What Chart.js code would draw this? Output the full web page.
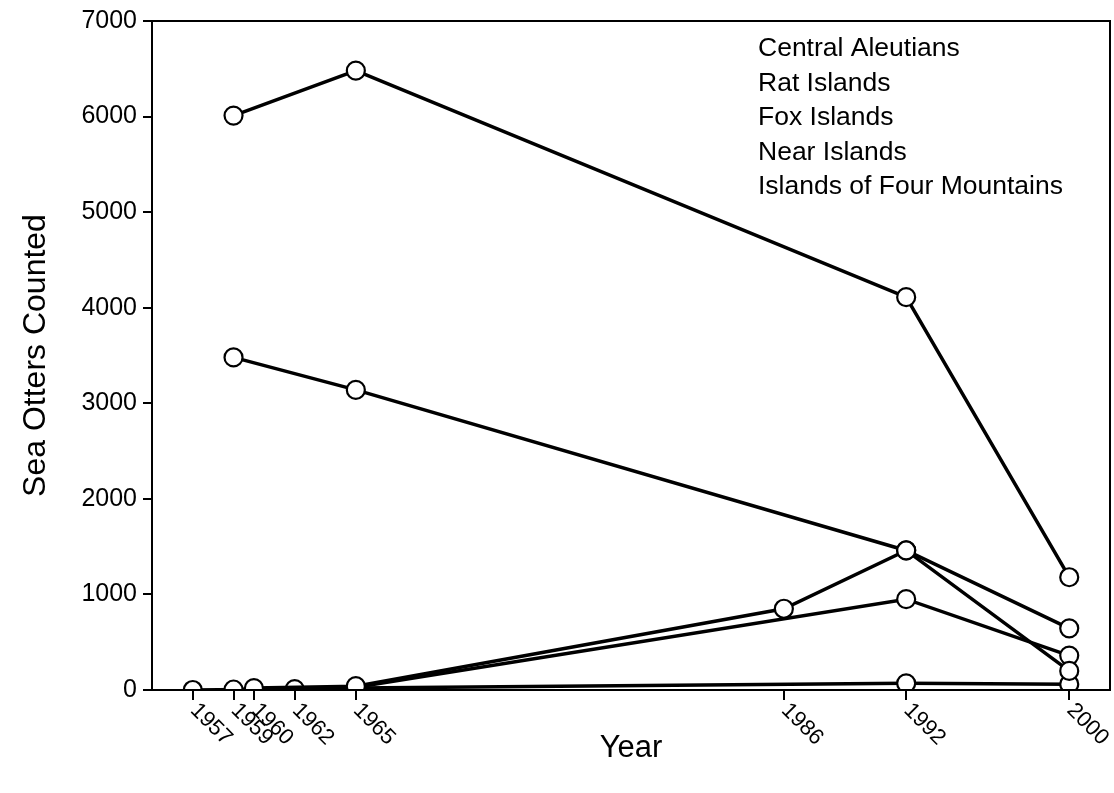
<!DOCTYPE html>
<html>
<head>
<meta charset="utf-8">
<script src="https://cdn.jsdelivr.net/npm/chart.js@4"></script>
<style>
  html, body { margin: 0; padding: 0; background: #fff; }
  #wrap { width: 1114px; height: 793px; position: relative; }
</style>
</head>
<body>
<div id="wrap"><canvas id="otters"></canvas></div>
<script>
// survey years (x ticks) and counts per island group, null = not surveyed
const years = [1957, 1959, 1960, 1962, 1965, 1986, 1992, 2000];
const seriesNames = ['Central Aleutians', 'Rat Islands', 'Fox Islands', 'Near Islands', 'Islands of Four Mountains'];
const centralAleutians = [null, 6010, null, null, 6480, null, 4110, 1180];
const ratIslands       = [null, 3480, null, null, 3140, null, 1460, 645];
const foxIslands       = [null, null, 20, null, 40, 850, 1460, 200];
const nearIslands      = [null, 5, null, null, 30, null, 950, 360];
const fourMountains    = [0, null, null, 10, 20, null, 70, 60];
const yTicks = [0, 1000, 2000, 3000, 4000, 5000, 6000, 7000];

const FONT = '"Liberation Sans", Arial, sans-serif';

function toPoints(vals) {
  return years.map((yr, i) => ({ x: yr, y: vals[i] })).filter(p => p.y !== null);
}

const allSeries = [centralAleutians, ratIslands, foxIslands, nearIslands, fourMountains];

const datasets = allSeries.map((vals, i) => ({
  label: seriesNames[i],
  data: toPoints(vals),
  borderColor: '#000',
  borderWidth: 3.5,
  pointRadius: 9,
  pointBorderWidth: 2.2,
  pointBackgroundColor: '#fff',
  pointBorderColor: '#000',
  tension: 0,
  fill: false
}));

// box round the plot, rotated year labels and the text-only legend
const extras = {
  id: 'extras',
  afterDraw(chart) {
    const { ctx, chartArea } = chart;
    const xs = chart.scales.x;
    ctx.save();
    ctx.strokeStyle = '#000';
    ctx.lineWidth = 2;
    ctx.strokeRect(chartArea.left, chartArea.top, chartArea.right - chartArea.left, chartArea.bottom - chartArea.top);

    ctx.fillStyle = '#000';
    ctx.font = '22px ' + FONT;
    ctx.textAlign = 'left';
    ctx.textBaseline = 'middle';
    years.forEach(yr => {
      const px = xs.getPixelForValue(yr);
      ctx.save();
      ctx.translate(px + 1, chartArea.bottom + 17);
      ctx.rotate(45 * Math.PI / 180);
      ctx.fillText(String(yr), 0, 0);
      ctx.restore();
    });

    ctx.font = '26.5px ' + FONT;
    seriesNames.forEach((name, i) => {
      ctx.fillText(name, chartArea.right - 352, chartArea.top + 28 + i * 34.5);
    });
    ctx.restore();
  }
};

new Chart(document.getElementById('otters'), {
  type: 'line',
  data: { datasets },
  options: {
    responsive: true,
    maintainAspectRatio: false,
    animation: false,
    layout: { autoPadding: false, padding: { top: 18, right: 4, left: 0, bottom: 0 } },
    plugins: {
      legend: { display: false },
      tooltip: { enabled: false }
    },
    scales: {
      x: {
        type: 'linear',
        min: 1955,
        max: 2002,
        afterBuildTicks: scale => { scale.ticks = years.map(v => ({ value: v })); },
        afterFit: scale => { scale.height = 103; },
        ticks: { display: false },
        grid: { drawOnChartArea: false, drawTicks: true, tickLength: 10, color: '#000', lineWidth: 2 },
        border: { color: '#000', width: 2 },
        title: {
          display: true,
          text: 'Year',
          color: '#000',
          font: { family: FONT, size: 31 },
          padding: { top: 0, bottom: 26 }
        }
      },
      y: {
        min: 0,
        max: 7000,
        afterBuildTicks: scale => { scale.ticks = yTicks.map(v => ({ value: v })); },
        afterFit: scale => { scale.width = 152; },
        ticks: { color: '#000', font: { family: FONT, size: 25 }, padding: 6, callback: v => String(v) },
        grid: { drawOnChartArea: false, drawTicks: true, tickLength: 9, color: '#000', lineWidth: 2 },
        border: { color: '#000', width: 2 },
        title: {
          display: true,
          text: 'Sea Otters Counted',
          color: '#000',
          font: { family: FONT, size: 32 },
          padding: { top: 17, bottom: 0 }
        }
      }
    }
  },
  plugins: [extras]
});
</script>
</body>
</html>
